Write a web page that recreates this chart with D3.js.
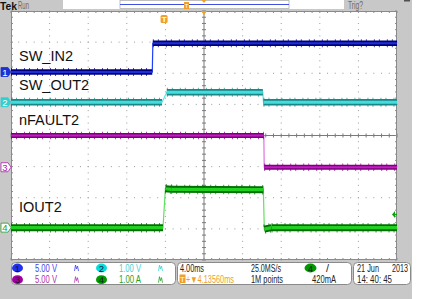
<!DOCTYPE html>
<html><head><meta charset="utf-8">
<script src="https://cdn.jsdelivr.net/npm/d3@7"></script>
<style>body{margin:0;background:#fff}svg{display:block}
text{font-family:"Liberation Sans",Arial,sans-serif}</style>
</head><body><svg id="c" width="435" height="299"></svg>
<script>
// ---- data (time in ms, values in channel units) ----
const channelNames = ["SW_IN2","SW_OUT2","nFAULT2","IOUT2"];
const channelScales = [5, 1, 5, 1];          // units per division
const channelOffsets = [2.04, 1.07, -1.02, -2.96]; // ground position, divisions
const swIn  = [[-20,0],[-5.36,0],[-5.3,4.6],[20,4.6]];
const swOut = [[-20,0],[-4.35,0],[-3.85,0.32],[6.1,0.32],[6.16,0],[20,0]];
const nFault= [[-20,5.1],[6.2,5.1],[6.24,0],[20,0]];
const iOut  = [[-20,0],[-4.25,0],[-4.0,1.25],[-3.4,1.23],[6.15,1.22],[6.25,-0.05],[7.0,0],[20,0]];
const timeTicks = d3.range(-20, 20.001, 4);
const levelTicks = d3.range(-4, 4.001, 1);
const legendScaleLabels = ["5.00 V","1.00 V","5.00 V","1.00 A"];
const horizLabels = ["4.00ms","25.0MS/s","1M points","420mA"];
const triggerDelay = "4.13560ms";
const triggerLevel = 0.42;
const triggerTime = -4.1356;
const dateLabels = ["21 Jun","2013","14: 40: 45"];

const svg = d3.select("#c");
const x = d3.scaleLinear().domain([-20,20]).range([11,397]);
const y = d3.scaleLinear().domain([-4,4]).range([260,11]);

function txt(px, py, s, w, size, fill, anchor){
  const t = svg.append("text").attr("x",px).attr("y",py).attr("font-size",size).attr("fill",fill).text(s);
  if(w) t.attr("textLength",w).attr("lengthAdjust","spacingAndGlyphs");
  if(anchor) t.attr("text-anchor",anchor);
  return t;
}

// backgrounds
svg.append("rect").attr("width",412).attr("height",299).attr("fill","#c8c8c8");
svg.append("rect").attr("x",11).attr("y",11).attr("width",386).attr("height",249).attr("fill","#fff");

// grid
const g = svg.append("g");
const minorX = d3.range(-20, 20.001, 0.8), minorY = d3.range(-4, 4.001, 0.2);
timeTicks.slice(1,-1).forEach(t=>{ if(t===0) return;
  minorY.forEach(v=>g.append("rect").attr("x",x(t)-0.5).attr("y",y(v)-0.5).attr("width",1).attr("height",1).attr("fill","#9a9a9a"));});
levelTicks.slice(1,-1).forEach(v=>{ if(v===0) return;
  minorX.forEach(t=>g.append("rect").attr("x",x(t)-0.5).attr("y",y(v)-0.5).attr("width",1).attr("height",1).attr("fill","#9a9a9a"));});
g.append("line").attr("x1",x(0)).attr("x2",x(0)).attr("y1",y(4)).attr("y2",y(-4)).attr("stroke","#7a7a7a");
g.append("line").attr("x1",x(-20)).attr("x2",x(20)).attr("y1",y(0)).attr("y2",y(0)).attr("stroke","#7a7a7a");
minorY.forEach(v=>g.append("line").attr("x1",x(0)-2).attr("x2",x(0)+2).attr("y1",y(v)).attr("y2",y(v)).attr("stroke","#7a7a7a"));
minorX.forEach(t=>g.append("line").attr("x1",x(t)).attr("x2",x(t)).attr("y1",y(0)-2).attr("y2",y(0)+2).attr("stroke","#7a7a7a"));
minorX.forEach(t=>{
  g.append("line").attr("x1",x(t)).attr("x2",x(t)).attr("y1",y(4)).attr("y2",y(4)+2).attr("stroke","#8a8a8a");
  g.append("line").attr("x1",x(t)).attr("x2",x(t)).attr("y1",y(-4)).attr("y2",y(-4)-2).attr("stroke","#8a8a8a");});
minorY.forEach(v=>{
  g.append("line").attr("x1",x(-20)).attr("x2",x(-20)+2).attr("y1",y(v)).attr("y2",y(v)).attr("stroke","#8a8a8a");
  g.append("line").attr("x1",x(20)).attr("x2",x(20)-2).attr("y1",y(v)).attr("y2",y(v)).attr("stroke","#8a8a8a");});
g.append("rect").attr("x",11.5).attr("y",11.5).attr("width",385).attr("height",248).attr("fill","none").attr("stroke","#8a8a8a");

// traces
const series = [swIn, swOut, nFault, iOut];
const styles = [
  {outer:"#00007c", inner:"#1c30d4", ow:5.5, iw:2, edge:"#2040ff"},
  {outer:"#1a8686", inner:"#44dcdc", ow:6.5, iw:3, edge:"#58e8e8"},
  {outer:"#7c007c", inner:"#c41cc4", ow:5, iw:2.2, edge:"#e070e0"},
  {outer:"#006e00", inner:"#22d022", ow:7, iw:3.2, edge:"#60e060"}];
svg.append("clipPath").attr("id","cl").append("rect").attr("x",11).attr("y",11).attr("width",386).attr("height",249);
const tg = svg.append("g").attr("clip-path","url(#cl)");
series.forEach((d,i)=>{
  const yy = v => y(channelOffsets[i] + v/channelScales[i]);
  const line = d3.line().x(p=>x(p[0])).y(p=>yy(p[1]));
  const st = styles[i];
  tg.append("path").attr("d",line(d)).attr("fill","none").attr("stroke",st.edge).attr("stroke-width",1.2);
  for(let k=0;k<d.length-1;k++){
    if(Math.abs(d[k][1]-d[k+1][1])>0.1*channelScales[i]) continue;
    const seg=[d[k],d[k+1]];
    tg.append("path").attr("d",line(seg)).attr("fill","none").attr("stroke",st.outer).attr("stroke-width",st.ow).attr("stroke-linecap","butt");
    tg.append("path").attr("d",line(seg)).attr("fill","none").attr("stroke",st.outer).attr("stroke-width",st.ow+2.5)
      .attr("stroke-dasharray","1 4 1 7").attr("opacity",0.7);
    tg.append("path").attr("d",line(seg)).attr("fill","none").attr("stroke",st.inner).attr("stroke-width",st.iw);
  }
});

// labels
const labY = [61, 90, 125, 211.5];
channelNames.forEach((n,i)=>txt(19,labY[i],n,null,14.5,"#111"));

// channel ground markers
const mk = [{f:"#1c30d4",t:"#fff",s:"#1c30d4"},{f:"#30d0d0",t:"#fff",s:"#30d0d0"},{f:"#fff",t:"#b020b0",s:"#b020b0"},{f:"#fff",t:"#20a020",s:"#20a020"}];
channelOffsets.forEach((o,i)=>{
  const cy = y(o);
  svg.append("path").attr("d",`M1,${cy-4.5}H8L11,${cy}L8,${cy+4.5}H1Z`).attr("fill",mk[i].f).attr("stroke",mk[i].s).attr("stroke-width",0.8);
  txt(5,cy+3.5,i+1,null,9.5,mk[i].t,"middle");
});

// trigger level arrow (ch4)
const ty = y(channelOffsets[3] + triggerLevel/channelScales[3]);
svg.append("path").attr("d",`M392,${ty}L395,${ty-3.5}V${ty+3.5}Z`).attr("fill","#10a010");
svg.append("line").attr("x1",394).attr("x2",397).attr("y1",ty).attr("y2",ty).attr("stroke","#10a010").attr("stroke-width",1.6);

// trigger position markers
const tx = x(triggerTime);
svg.append("rect").attr("x",tx-3.5).attr("y",15).attr("width",7).attr("height",8).attr("rx",1.5).attr("fill","#f0a028");
txt(tx,22,"T",null,8,"#fff","middle").attr("font-weight","bold");
svg.append("path").attr("d",`M${x(0)-3},11L${x(0)+3},11L${x(0)},15Z`).attr("fill","#f0a028");

// top bar
txt(0,9.5,"Tek",17,11.5,"#111").attr("font-weight","bold");
txt(18,9,"Run",11,10,"#6a6a6a");
svg.append("rect").attr("x",63).attr("y",0).attr("width",281).attr("height",9).attr("fill","#fff");
svg.append("rect").attr("x",120).attr("y",0.5).attr("width",169).attr("height",8).attr("fill","#fff").attr("stroke","#b0b0b0").attr("stroke-width",0.8);
svg.append("line").attr("x1",120).attr("x2",289).attr("y1",4.5).attr("y2",4.5).attr("stroke","#4050e0").attr("stroke-width",1);
svg.append("rect").attr("x",184).attr("y",2).attr("width",5).attr("height",7).attr("fill","#f0a028");
txt(186.5,8,"T",null,6,"#fff","middle");
svg.append("path").attr("d",`M${x(0)-2.5},0L${x(0)+2.5},0L${x(0)},3Z`).attr("fill","#f0a028");
txt(348,9,"Trig?",15,10,"#6a6a6a");
svg.append("rect").attr("x",404).attr("y",0).attr("width",6).attr("height",1.5).attr("fill","#505050");

// bottom legend boxes
[[11,164],[177,174],[353,57]].forEach(b=>svg.append("rect").attr("x",b[0]+0.5).attr("y",262.5).attr("width",b[1]).attr("height",22)
  .attr("rx",4).attr("fill","#fff").attr("stroke","#8a8a8a"));
const chCol = ["#2030f0","#00dede","#a000a0","#009a00"];
const chTxt = ["#3c44f0","#44d0d0","#b030b0","#28a028"];
const pos = [[17.5,268],[101.5,268],[17.5,279.7],[101.5,279.7]];
legendScaleLabels.forEach((l,i)=>{
  const [cx,cy]=pos[i];
  svg.append("ellipse").attr("cx",cx).attr("cy",cy).attr("rx",5.5).attr("ry",4.4).attr("fill",chCol[i]);
  txt(cx,cy+3.5,i+1,null,9.5,"#151530","middle");
  txt(cx+17.5,cy+3.6,l,22,10,chTxt[i]);
  const bx = cx+57, by = cy-3;
  svg.append("path").attr("d",`M${bx},${by+6}L${bx+1},${by}L${bx+2},${by+4}L${bx+3},${by+1}L${bx+4},${by+6}`)
    .attr("fill","none").attr("stroke",chTxt[i]).attr("stroke-width",0.8);
});
// horizontal/trigger box
txt(180,271.5,horizLabels[0],24,10,"#222");
txt(251,271.5,horizLabels[1],30,10,"#222");
svg.append("ellipse").attr("cx",310.5).attr("cy",268).attr("rx",6).attr("ry",4.4).attr("fill","#009a00");
txt(310.5,271.5,"4",null,9.5,"#102010","middle");
txt(326,271.5,"/",3,10,"#222");
svg.append("rect").attr("x",179.5).attr("y",274.5).attr("width",6).attr("height",8.5).attr("fill","#f0a028");
txt(182.5,282,"T",null,8,"#fff","middle");
txt(186,283.3,"+\u25BC"+triggerDelay,48,10,"#f0a028");
txt(251,283.3,horizLabels[2],32,10,"#222");
txt(312,283.3,horizLabels[3],24,10,"#222");
// date box
txt(357,271.5,dateLabels[0],22,10,"#222");
txt(392,271.5,dateLabels[1],16,10,"#222");
txt(357,283.3,dateLabels[2],35,10,"#222");
</script></body></html>
